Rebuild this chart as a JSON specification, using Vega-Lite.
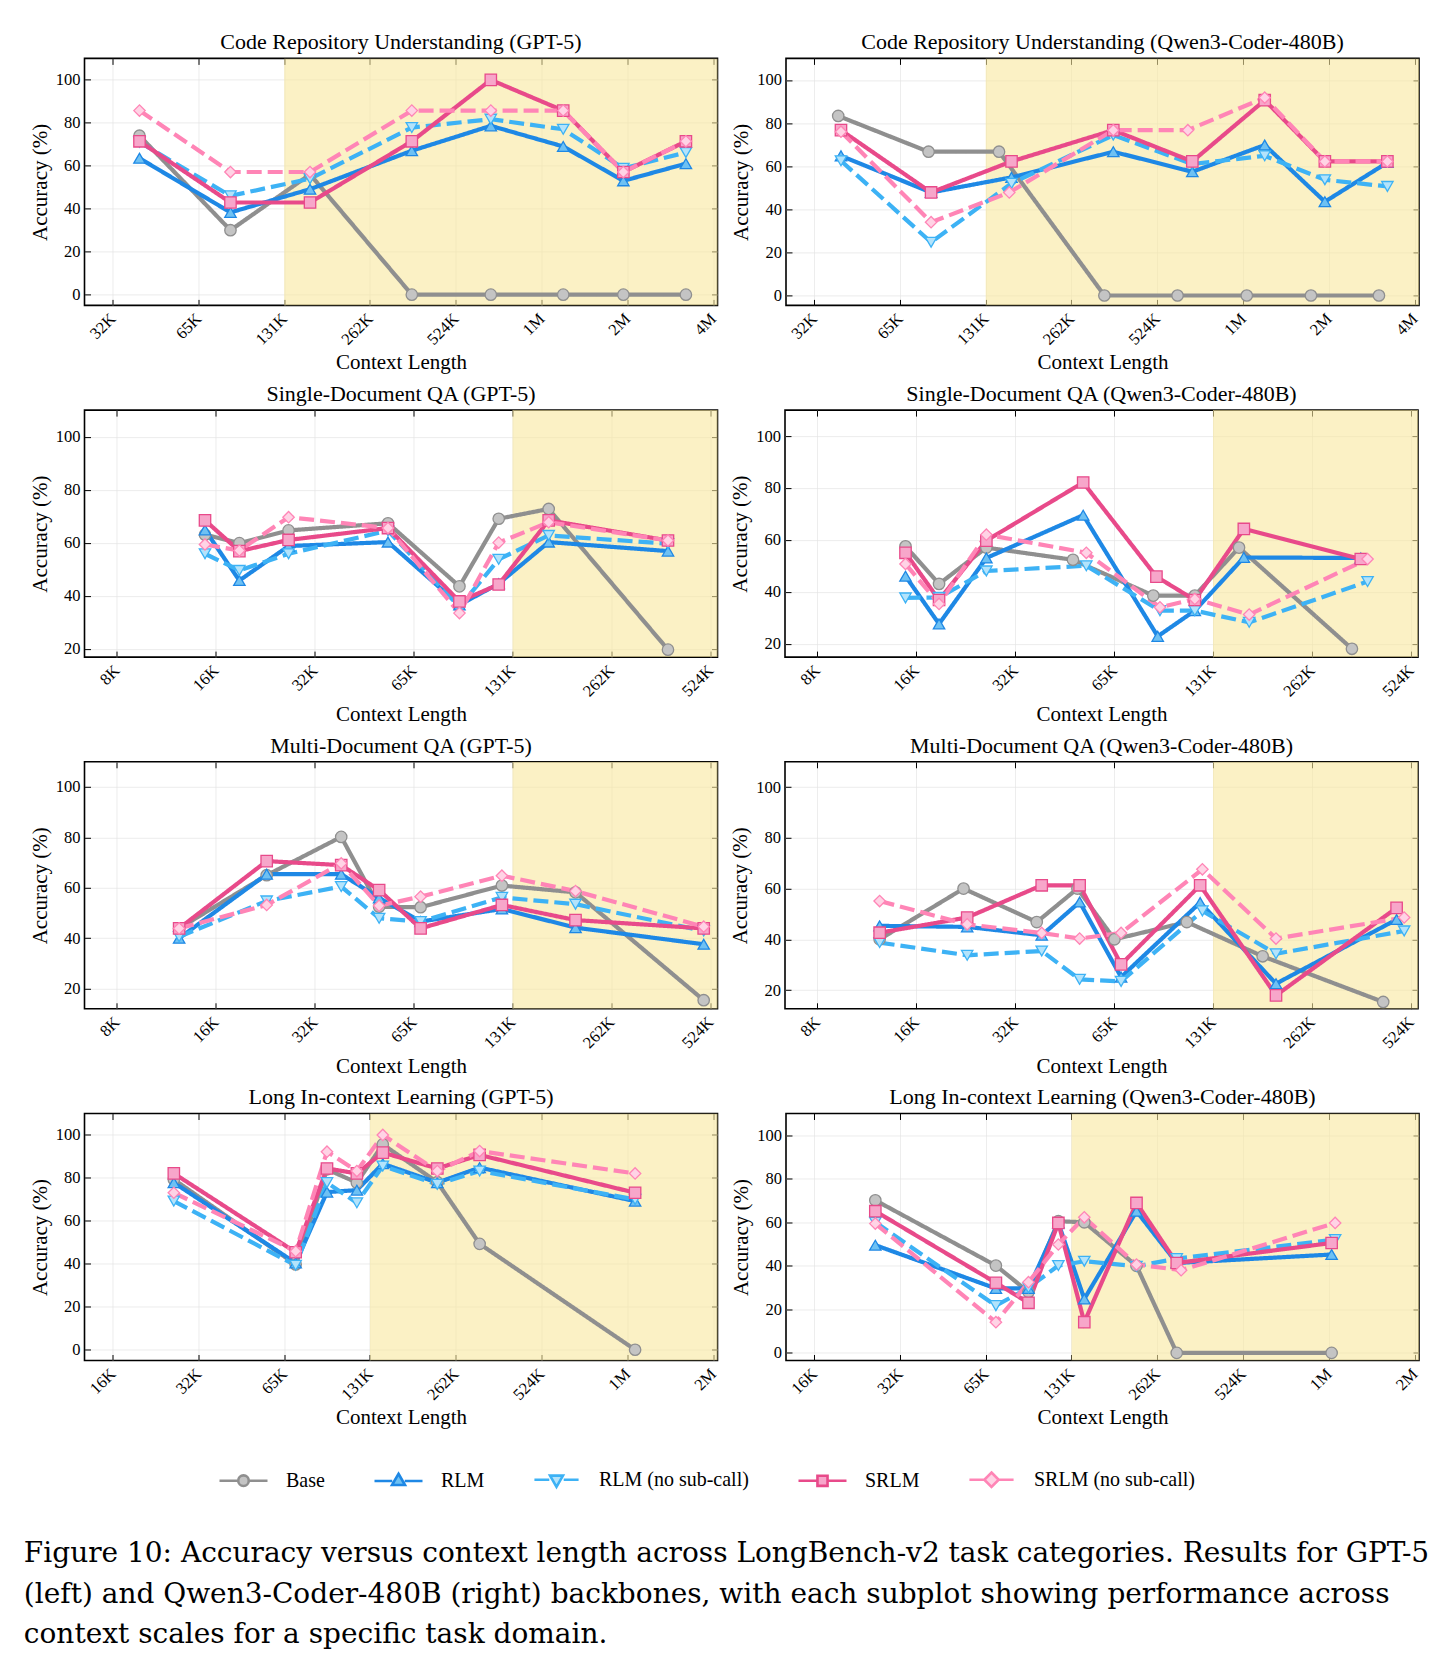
{
"$schema": "https://vega.github.io/schema/vega-lite/v6.json",
"padding": {"left": 23.5, "top": 30.4, "right": 5, "bottom": 10},
"background": "white",
"config": {
  "font": "Liberation Serif",
  "view": {"stroke": "#000", "strokeWidth": 1.6},
  "axis": {"labelFont": "Liberation Serif", "labelFontSize": 16.5, "labelColor": "#000", "titleFont": "Liberation Serif", "titleFontSize": 21, "titleFontWeight": "normal", "titleColor": "#000", "domain": false, "tickColor": "#000", "tickSize": -6, "tickWidth": 1, "labelPadding": 10.5, "gridColor": "#e4e4e4", "gridWidth": 0.7},
  "axisY": {"titlePadding": 5},
  "axisX": {"labelAlign": "right", "labelBaseline": "middle", "labelAngle": -45, "labelPadding": 16.5},
  "title": {"font": "Liberation Serif", "fontSize": 22, "fontWeight": "normal", "offset": 3.5, "color": "#000"}
},
"resolve": {"scale": {"color": "independent", "fill": "independent", "stroke": "independent", "shape": "independent", "strokeDash": "independent"}},
"spacing": 7.7,
"title": {"text": ["Figure 10: Accuracy versus context length across LongBench-v2 task categories. Results for GPT-5", "(left) and Qwen3-Coder-480B (right) backbones, with each subplot showing performance across", "context scales for a specific task domain."], "orient": "bottom", "anchor": "start", "frame": "bounds", "font": "DejaVu Serif", "fontSize": 28, "fontWeight": "normal", "lineHeight": 40.5, "offset": 48, "baseline": "top", "dx": -4.6, "color": "#000"},
"data": {"values": [
{"p":1,"s":"B","len":40700,"acc":74},{"p":1,"s":"B","len":84900,"acc":30},{"p":1,"s":"B","len":161500,"acc":56},{"p":1,"s":"B","len":367600,"acc":0},{"p":1,"s":"B","len":696100,"acc":0},{"p":1,"s":"B","len":1249600,"acc":0},{"p":1,"s":"B","len":2032000,"acc":0},{"p":1,"s":"B","len":3368000,"acc":0},
{"p":1,"s":"R","len":40700,"acc":63.5},{"p":1,"s":"R","len":84900,"acc":38.3},{"p":1,"s":"R","len":161500,"acc":49.1},{"p":1,"s":"R","len":367600,"acc":67},{"p":1,"s":"R","len":696100,"acc":78.6},{"p":1,"s":"R","len":1249600,"acc":69},{"p":1,"s":"R","len":2032000,"acc":53},{"p":1,"s":"R","len":3368000,"acc":61},
{"p":1,"s":"RN","len":40700,"acc":71},{"p":1,"s":"RN","len":84900,"acc":46},{"p":1,"s":"RN","len":161500,"acc":54},{"p":1,"s":"RN","len":367600,"acc":77.8},{"p":1,"s":"RN","len":696100,"acc":81.7},{"p":1,"s":"RN","len":1249600,"acc":77},{"p":1,"s":"RN","len":2032000,"acc":58.8},{"p":1,"s":"RN","len":3368000,"acc":66.2},
{"p":1,"s":"S","len":40700,"acc":71.4},{"p":1,"s":"S","len":84900,"acc":42.9},{"p":1,"s":"S","len":161500,"acc":42.9},{"p":1,"s":"S","len":367600,"acc":71.4},{"p":1,"s":"S","len":696100,"acc":100},{"p":1,"s":"S","len":1249600,"acc":85.7},{"p":1,"s":"S","len":2032000,"acc":57.1},{"p":1,"s":"S","len":3368000,"acc":71.4},
{"p":1,"s":"SN","len":40700,"acc":85.7},{"p":1,"s":"SN","len":84900,"acc":57.1},{"p":1,"s":"SN","len":161500,"acc":57.1},{"p":1,"s":"SN","len":367600,"acc":85.7},{"p":1,"s":"SN","len":696100,"acc":85.7},{"p":1,"s":"SN","len":1249600,"acc":85.7},{"p":1,"s":"SN","len":2032000,"acc":57.1},{"p":1,"s":"SN","len":3368000,"acc":71.4},
{"p":2,"s":"B","len":39800,"acc":83.3},{"p":2,"s":"B","len":82600,"acc":66.7},{"p":2,"s":"B","len":146000,"acc":66.7},{"p":2,"s":"B","len":342000,"acc":0},{"p":2,"s":"B","len":617800,"acc":0},{"p":2,"s":"B","len":1081000,"acc":0},{"p":2,"s":"B","len":1816000,"acc":0},{"p":2,"s":"B","len":3146000,"acc":0},
{"p":2,"s":"R","len":40700,"acc":64.8},{"p":2,"s":"R","len":84300,"acc":47.8},{"p":2,"s":"R","len":161500,"acc":54.8},{"p":2,"s":"R","len":367600,"acc":66.7},{"p":2,"s":"R","len":696100,"acc":57.4},{"p":2,"s":"R","len":1249600,"acc":69.8},{"p":2,"s":"R","len":2032000,"acc":43.5},{"p":2,"s":"R","len":3368000,"acc":61.7},
{"p":2,"s":"RN","len":40700,"acc":62.5},{"p":2,"s":"RN","len":84300,"acc":24.7},{"p":2,"s":"RN","len":161500,"acc":52},{"p":2,"s":"RN","len":367600,"acc":74.4},{"p":2,"s":"RN","len":696100,"acc":61},{"p":2,"s":"RN","len":1249600,"acc":64.8},{"p":2,"s":"RN","len":2032000,"acc":53.7},{"p":2,"s":"RN","len":3368000,"acc":50.6},
{"p":2,"s":"S","len":40700,"acc":76.7},{"p":2,"s":"S","len":84300,"acc":47.8},{"p":2,"s":"S","len":161500,"acc":62.2},{"p":2,"s":"S","len":367600,"acc":76.7},{"p":2,"s":"S","len":696100,"acc":62.2},{"p":2,"s":"S","len":1249600,"acc":90.6},{"p":2,"s":"S","len":2032000,"acc":62.2},{"p":2,"s":"S","len":3368000,"acc":62.2},
{"p":2,"s":"SN","len":40700,"acc":76},{"p":2,"s":"SN","len":84300,"acc":34},{"p":2,"s":"SN","len":158600,"acc":47.8},{"p":2,"s":"SN","len":367600,"acc":76.7},{"p":2,"s":"SN","len":671400,"acc":76.7},{"p":2,"s":"SN","len":1249600,"acc":91.8},{"p":2,"s":"SN","len":2032000,"acc":62.2},{"p":2,"s":"SN","len":3368000,"acc":62.2},
{"p":3,"s":"B","len":15210,"acc":63},{"p":3,"s":"B","len":19350,"acc":59.8},{"p":3,"s":"B","len":27310,"acc":64.6},{"p":3,"s":"B","len":54800,"acc":67.3},{"p":3,"s":"B","len":90400,"acc":43.5},{"p":3,"s":"B","len":119000,"acc":69},{"p":3,"s":"B","len":168900,"acc":72.7},{"p":3,"s":"B","len":389500,"acc":19.6},
{"p":3,"s":"R","len":15210,"acc":64.8},{"p":3,"s":"R","len":19350,"acc":45.7},{"p":3,"s":"R","len":27310,"acc":58.7},{"p":3,"s":"R","len":54800,"acc":60.2},{"p":3,"s":"R","len":90400,"acc":36.5},{"p":3,"s":"R","len":119000,"acc":44.5},{"p":3,"s":"R","len":168900,"acc":60.2},{"p":3,"s":"R","len":389500,"acc":56.8},
{"p":3,"s":"RN","len":15210,"acc":55.8},{"p":3,"s":"RN","len":19350,"acc":49.5},{"p":3,"s":"RN","len":27310,"acc":55.8},{"p":3,"s":"RN","len":54800,"acc":64.5},{"p":3,"s":"RN","len":90400,"acc":35.7},{"p":3,"s":"RN","len":119000,"acc":53.7},{"p":3,"s":"RN","len":168900,"acc":62.7},{"p":3,"s":"RN","len":389500,"acc":59.6},
{"p":3,"s":"S","len":15210,"acc":68.4},{"p":3,"s":"S","len":19350,"acc":56.8},{"p":3,"s":"S","len":27310,"acc":61},{"p":3,"s":"S","len":54800,"acc":65.5},{"p":3,"s":"S","len":90400,"acc":37.8},{"p":3,"s":"S","len":119000,"acc":44.2},{"p":3,"s":"S","len":168900,"acc":68.4},{"p":3,"s":"S","len":389500,"acc":60.8},
{"p":3,"s":"SN","len":15210,"acc":59.3},{"p":3,"s":"SN","len":19350,"acc":57},{"p":3,"s":"SN","len":27310,"acc":69.6},{"p":3,"s":"SN","len":54800,"acc":65.5},{"p":3,"s":"SN","len":90400,"acc":33.4},{"p":3,"s":"SN","len":119000,"acc":60},{"p":3,"s":"SN","len":168900,"acc":67.7},{"p":3,"s":"SN","len":389500,"acc":60.8},
{"p":4,"s":"B","len":15210,"acc":57.5},{"p":4,"s":"B","len":19240,"acc":43},{"p":4,"s":"B","len":26800,"acc":57},{"p":4,"s":"B","len":49150,"acc":52.3},{"p":4,"s":"B","len":86270,"acc":38.5},{"p":4,"s":"B","len":115400,"acc":38.5},{"p":4,"s":"B","len":157300,"acc":57},{"p":4,"s":"B","len":346900,"acc":18},
{"p":4,"s":"R","len":15210,"acc":46},{"p":4,"s":"R","len":19240,"acc":27.6},{"p":4,"s":"R","len":26800,"acc":53},{"p":4,"s":"R","len":52800,"acc":69.5},{"p":4,"s":"R","len":89000,"acc":22.8},{"p":4,"s":"R","len":115400,"acc":32.7},{"p":4,"s":"R","len":162700,"acc":53.2},{"p":4,"s":"R","len":369100,"acc":53},
{"p":4,"s":"RN","len":15210,"acc":37.6},{"p":4,"s":"RN","len":19240,"acc":37.8},{"p":4,"s":"RN","len":26800,"acc":48},{"p":4,"s":"RN","len":53970,"acc":50},{"p":4,"s":"RN","len":90400,"acc":32.7},{"p":4,"s":"RN","len":115400,"acc":32.7},{"p":4,"s":"RN","len":168900,"acc":28.2},{"p":4,"s":"RN","len":387000,"acc":43.9},
{"p":4,"s":"S","len":15210,"acc":55},{"p":4,"s":"S","len":19240,"acc":36.8},{"p":4,"s":"S","len":26800,"acc":59.7},{"p":4,"s":"S","len":52800,"acc":82.1},{"p":4,"s":"S","len":88200,"acc":45.8},{"p":4,"s":"S","len":115400,"acc":36.8},{"p":4,"s":"S","len":162700,"acc":64.2},{"p":4,"s":"S","len":369100,"acc":52.6},
{"p":4,"s":"SN","len":15210,"acc":50.7},{"p":4,"s":"SN","len":19240,"acc":35.3},{"p":4,"s":"SN","len":26800,"acc":62},{"p":4,"s":"SN","len":53970,"acc":55},{"p":4,"s":"SN","len":90400,"acc":34},{"p":4,"s":"SN","len":115400,"acc":37.2},{"p":4,"s":"SN","len":168900,"acc":31.2},{"p":4,"s":"SN","len":387000,"acc":52.6},
{"p":5,"s":"B","len":12690,"acc":43.9},{"p":5,"s":"B","len":23430,"acc":65},{"p":5,"s":"B","len":39490,"acc":80.2},{"p":5,"s":"B","len":51500,"acc":52.5},{"p":5,"s":"B","len":68860,"acc":52.3},{"p":5,"s":"B","len":121700,"acc":60.9},{"p":5,"s":"B","len":203800,"acc":58.2},{"p":5,"s":"B","len":500200,"acc":15.4},
{"p":5,"s":"R","len":12690,"acc":40},{"p":5,"s":"R","len":23430,"acc":65.4},{"p":5,"s":"R","len":39490,"acc":65.4},{"p":5,"s":"R","len":51500,"acc":56},{"p":5,"s":"R","len":68860,"acc":46.6},{"p":5,"s":"R","len":121700,"acc":51.6},{"p":5,"s":"R","len":203800,"acc":44.2},{"p":5,"s":"R","len":500200,"acc":37.6},
{"p":5,"s":"RN","len":12690,"acc":40.6},{"p":5,"s":"RN","len":23430,"acc":54.8},{"p":5,"s":"RN","len":39490,"acc":60.5},{"p":5,"s":"RN","len":51500,"acc":47.9},{"p":5,"s":"RN","len":68860,"acc":46.6},{"p":5,"s":"RN","len":121700,"acc":56.2},{"p":5,"s":"RN","len":203800,"acc":53.5},{"p":5,"s":"RN","len":500200,"acc":42.9},
{"p":5,"s":"S","len":12690,"acc":43.9},{"p":5,"s":"S","len":23430,"acc":70.6},{"p":5,"s":"S","len":39490,"acc":69},{"p":5,"s":"S","len":51500,"acc":59.1},{"p":5,"s":"S","len":68860,"acc":43.9},{"p":5,"s":"S","len":121700,"acc":53.2},{"p":5,"s":"S","len":203800,"acc":47.2},{"p":5,"s":"S","len":500200,"acc":43.9},
{"p":5,"s":"SN","len":12690,"acc":43.9},{"p":5,"s":"SN","len":23430,"acc":53.2},{"p":5,"s":"SN","len":39490,"acc":69.7},{"p":5,"s":"SN","len":51500,"acc":52.9},{"p":5,"s":"SN","len":68860,"acc":56.5},{"p":5,"s":"SN","len":121700,"acc":64.8},{"p":5,"s":"SN","len":203800,"acc":58.7},{"p":5,"s":"SN","len":500200,"acc":44.6},
{"p":6,"s":"B","len":12690,"acc":40},{"p":6,"s":"B","len":22840,"acc":60},{"p":6,"s":"B","len":38140,"acc":46.8},{"p":6,"s":"B","len":50720,"acc":60},{"p":6,"s":"B","len":65720,"acc":40},{"p":6,"s":"B","len":109100,"acc":46.8},{"p":6,"s":"B","len":185600,"acc":33.3},{"p":6,"s":"B","len":431800,"acc":15.3},
{"p":6,"s":"R","len":12690,"acc":45.3},{"p":6,"s":"R","len":23430,"acc":44.9},{"p":6,"s":"R","len":39490,"acc":41.6},{"p":6,"s":"R","len":51500,"acc":54.7},{"p":6,"s":"R","len":68860,"acc":25.1},{"p":6,"s":"R","len":119800,"acc":54.5},{"p":6,"s":"R","len":203800,"acc":22.5},{"p":6,"s":"R","len":474300,"acc":47.8},
{"p":6,"s":"RN","len":12690,"acc":38.7},{"p":6,"s":"RN","len":23430,"acc":33.7},{"p":6,"s":"RN","len":39490,"acc":35.4},{"p":6,"s":"RN","len":51500,"acc":24.2},{"p":6,"s":"RN","len":68860,"acc":23.4},{"p":6,"s":"RN","len":121700,"acc":51.2},{"p":6,"s":"RN","len":203800,"acc":34.3},{"p":6,"s":"RN","len":500200,"acc":43.3},
{"p":6,"s":"S","len":12690,"acc":42.6},{"p":6,"s":"S","len":23430,"acc":48.6},{"p":6,"s":"S","len":39490,"acc":61.3},{"p":6,"s":"S","len":51500,"acc":61.3},{"p":6,"s":"S","len":68860,"acc":30.1},{"p":6,"s":"S","len":119800,"acc":61.3},{"p":6,"s":"S","len":203800,"acc":17.9},{"p":6,"s":"S","len":474300,"acc":52.4},
{"p":6,"s":"SN","len":12690,"acc":55.1},{"p":6,"s":"SN","len":23430,"acc":45.9},{"p":6,"s":"SN","len":39490,"acc":42.5},{"p":6,"s":"SN","len":51500,"acc":40.3},{"p":6,"s":"SN","len":68860,"acc":42.5},{"p":6,"s":"SN","len":121700,"acc":67.6},{"p":6,"s":"SN","len":203800,"acc":40.3},{"p":6,"s":"SN","len":500200,"acc":48.6},
{"p":7,"s":"B","len":26860,"acc":79.3},{"p":7,"s":"B","len":71900,"acc":39.7},{"p":7,"s":"B","len":92610,"acc":84},{"p":7,"s":"B","len":117900,"acc":77.8},{"p":7,"s":"B","len":145400,"acc":95.6},{"p":7,"s":"B","len":225900,"acc":78},{"p":7,"s":"B","len":318000,"acc":49.3},{"p":7,"s":"B","len":1117000,"acc":0},
{"p":7,"s":"R","len":26860,"acc":77.8},{"p":7,"s":"R","len":71900,"acc":40.4},{"p":7,"s":"R","len":92610,"acc":73.4},{"p":7,"s":"R","len":117900,"acc":74.3},{"p":7,"s":"R","len":145400,"acc":86.6},{"p":7,"s":"R","len":225900,"acc":77.8},{"p":7,"s":"R","len":318000,"acc":84.8},{"p":7,"s":"R","len":1117000,"acc":69.2},
{"p":7,"s":"RN","len":26860,"acc":69.2},{"p":7,"s":"RN","len":71900,"acc":39.3},{"p":7,"s":"RN","len":92610,"acc":77.8},{"p":7,"s":"RN","len":117900,"acc":68.4},{"p":7,"s":"RN","len":145400,"acc":85.5},{"p":7,"s":"RN","len":225900,"acc":77},{"p":7,"s":"RN","len":318000,"acc":83.2},{"p":7,"s":"RN","len":1117000,"acc":70},
{"p":7,"s":"S","len":26860,"acc":82.1},{"p":7,"s":"S","len":71900,"acc":45.4},{"p":7,"s":"S","len":92610,"acc":84.4},{"p":7,"s":"S","len":117900,"acc":82.1},{"p":7,"s":"S","len":145400,"acc":91.8},{"p":7,"s":"S","len":225900,"acc":84.4},{"p":7,"s":"S","len":318000,"acc":90.7},{"p":7,"s":"S","len":1117000,"acc":73.1},
{"p":7,"s":"SN","len":26860,"acc":73.1},{"p":7,"s":"SN","len":71900,"acc":45.9},{"p":7,"s":"SN","len":92610,"acc":92.2},{"p":7,"s":"SN","len":117900,"acc":83.2},{"p":7,"s":"SN","len":145400,"acc":100},{"p":7,"s":"SN","len":225900,"acc":83.2},{"p":7,"s":"SN","len":318000,"acc":92.5},{"p":7,"s":"SN","len":1117000,"acc":82.1},
{"p":8,"s":"B","len":26860,"acc":70.1},{"p":8,"s":"B","len":71170,"acc":40.1},{"p":8,"s":"B","len":92610,"acc":28},{"p":8,"s":"B","len":117900,"acc":60.5},{"p":8,"s":"B","len":145400,"acc":60},{"p":8,"s":"B","len":221700,"acc":40},{"p":8,"s":"B","len":306900,"acc":0},{"p":8,"s":"B","len":1073000,"acc":0},
{"p":8,"s":"R","len":26860,"acc":49.5},{"p":8,"s":"R","len":71170,"acc":29.6},{"p":8,"s":"R","len":92610,"acc":29.6},{"p":8,"s":"R","len":117900,"acc":59.7},{"p":8,"s":"R","len":145400,"acc":24.8},{"p":8,"s":"R","len":221700,"acc":65.1},{"p":8,"s":"R","len":306900,"acc":41.3},{"p":8,"s":"R","len":1073000,"acc":45.2},
{"p":8,"s":"RN","len":26860,"acc":60},{"p":8,"s":"RN","len":71170,"acc":21.7},{"p":8,"s":"RN","len":92610,"acc":29.9},{"p":8,"s":"RN","len":117900,"acc":40.1},{"p":8,"s":"RN","len":145400,"acc":42.1},{"p":8,"s":"RN","len":221700,"acc":39.8},{"p":8,"s":"RN","len":306900,"acc":43.3},{"p":8,"s":"RN","len":1104000,"acc":52.1},
{"p":8,"s":"S","len":26860,"acc":65.1},{"p":8,"s":"S","len":71170,"acc":32.2},{"p":8,"s":"S","len":92610,"acc":23},{"p":8,"s":"S","len":117900,"acc":59.7},{"p":8,"s":"S","len":145400,"acc":14.1},{"p":8,"s":"S","len":221700,"acc":68.9},{"p":8,"s":"S","len":306900,"acc":41.3},{"p":8,"s":"S","len":1073000,"acc":50.5},
{"p":8,"s":"SN","len":26860,"acc":59.4},{"p":8,"s":"SN","len":71170,"acc":14.1},{"p":8,"s":"SN","len":92610,"acc":32.5},{"p":8,"s":"SN","len":117900,"acc":49.8},{"p":8,"s":"SN","len":145400,"acc":62.3},{"p":8,"s":"SN","len":221700,"acc":40.6},{"p":8,"s":"SN","len":318000,"acc":38},{"p":8,"s":"SN","len":1104000,"acc":59.7}
]},
"vconcat": [
 {"hconcat": [
  {"title": "Code Repository Understanding (GPT-5)", "width": 633, "height": 247, "resolve": {"axis": {"x": "independent", "y": "independent"}},
   "layer": [
    {"data": {"values": [{}]}, "mark": {"type": "rect", "color": "#F9E79F", "opacity": 0.6, "clip": true},
     "encoding": {"x": {"datum": 131072, "type": "quantitative", "scale": {"type": "log", "base": 2, "domain": [26100, 4348000], "nice": false},
       "axis": {"title": "Context Length", "values": [32768, 65536, 131072, 262144, 524288, 1048576, 2097152, 4194304], "labelExpr": "datum.value >= 1000000 ? format(datum.value / 1048576, 'd') + 'M' : format(floor(datum.value / 1000), 'd') + 'K'", "grid": true}},
      "x2": {"datum": 8388608}}},
    {"transform": [{"filter": "datum.p == 1"}], "mark": {"type": "line", "strokeWidth": 4.2, "clip": true},
     "encoding": {"x": {"field": "len", "type": "quantitative", "axis": null},
      "y": {"field": "acc", "type": "quantitative", "scale": {"domain": [-5, 110], "nice": false, "zero": false}, "axis": {"title": "Accuracy (%)", "values": [0, 20, 40, 60, 80, 100], "grid": true}},
      "stroke": {"field": "s", "type": "nominal", "scale": {"domain": ["B", "R", "RN", "S", "SN"], "range": ["#8f8f8f", "#1E88E5", "#3DB2F5", "#E84A8A", "#FF85B6"]}, "legend": null},
      "strokeDash": {"field": "s", "type": "nominal", "scale": {"domain": ["B", "R", "RN", "S", "SN"], "range": [[1, 0], [1, 0], [15, 6], [1, 0], [15, 6]]}, "legend": null}}},
    {"transform": [{"filter": "datum.p == 1"}], "mark": {"type": "point", "filled": true, "size": 130, "strokeWidth": 1.3, "opacity": 1},
     "encoding": {"x": {"field": "len", "type": "quantitative", "axis": null}, "y": {"field": "acc", "type": "quantitative", "axis": null},
      "stroke": {"field": "s", "type": "nominal", "legend": null},
      "fill": {"field": "s", "type": "nominal", "scale": {"domain": ["B", "R", "RN", "S", "SN"], "range": ["#c4c4c4", "#6EC1F3", "#B3E3FB", "#F7A6CA", "#FFD3E5"]}, "legend": null},
      "shape": {"field": "s", "type": "nominal", "scale": {"domain": ["B", "R", "RN", "S", "SN"], "range": ["circle", "triangle-up", "triangle-down", "square", "diamond"]}, "legend": null}}},
    {"data": {"values": [{}]}, "mark": {"type": "point", "opacity": 0},
     "encoding": {"x": {"datum": 131072, "type": "quantitative", "axis": {"orient": "top", "labels": false, "title": null, "grid": false, "values": [32768, 65536, 131072, 262144, 524288, 1048576, 2097152, 4194304]}},
      "y": {"datum": 50, "type": "quantitative", "axis": {"orient": "right", "labels": false, "title": null, "grid": false, "values": [0, 20, 40, 60, 80, 100]}}}}
   ]},
  {"title": "Code Repository Understanding (Qwen3-Coder-480B)", "width": 633, "height": 247, "resolve": {"axis": {"x": "independent", "y": "independent"}},
   "layer": [
    {"data": {"values": [{}]}, "mark": {"type": "rect", "color": "#F9E79F", "opacity": 0.6, "clip": true},
     "encoding": {"x": {"datum": 131072, "type": "quantitative", "scale": {"type": "log", "base": 2, "domain": [26100, 4348000], "nice": false},
       "axis": {"title": "Context Length", "values": [32768, 65536, 131072, 262144, 524288, 1048576, 2097152, 4194304], "labelExpr": "datum.value >= 1000000 ? format(datum.value / 1048576, 'd') + 'M' : format(floor(datum.value / 1000), 'd') + 'K'", "grid": true}},
      "x2": {"datum": 8388608}}},
    {"transform": [{"filter": "datum.p == 2"}], "mark": {"type": "line", "strokeWidth": 4.2, "clip": true},
     "encoding": {"x": {"field": "len", "type": "quantitative", "axis": null},
      "y": {"field": "acc", "type": "quantitative", "scale": {"domain": [-4.6, 110], "nice": false, "zero": false}, "axis": {"title": "Accuracy (%)", "values": [0, 20, 40, 60, 80, 100], "grid": true}},
      "stroke": {"field": "s", "type": "nominal", "scale": {"domain": ["B", "R", "RN", "S", "SN"], "range": ["#8f8f8f", "#1E88E5", "#3DB2F5", "#E84A8A", "#FF85B6"]}, "legend": null},
      "strokeDash": {"field": "s", "type": "nominal", "scale": {"domain": ["B", "R", "RN", "S", "SN"], "range": [[1, 0], [1, 0], [15, 6], [1, 0], [15, 6]]}, "legend": null}}},
    {"transform": [{"filter": "datum.p == 2"}], "mark": {"type": "point", "filled": true, "size": 130, "strokeWidth": 1.3, "opacity": 1},
     "encoding": {"x": {"field": "len", "type": "quantitative", "axis": null}, "y": {"field": "acc", "type": "quantitative", "axis": null},
      "stroke": {"field": "s", "type": "nominal", "legend": null},
      "fill": {"field": "s", "type": "nominal", "scale": {"domain": ["B", "R", "RN", "S", "SN"], "range": ["#c4c4c4", "#6EC1F3", "#B3E3FB", "#F7A6CA", "#FFD3E5"]}, "legend": null},
      "shape": {"field": "s", "type": "nominal", "scale": {"domain": ["B", "R", "RN", "S", "SN"], "range": ["circle", "triangle-up", "triangle-down", "square", "diamond"]}, "legend": null}}},
    {"data": {"values": [{}]}, "mark": {"type": "point", "opacity": 0},
     "encoding": {"x": {"datum": 131072, "type": "quantitative", "axis": {"orient": "top", "labels": false, "title": null, "grid": false, "values": [32768, 65536, 131072, 262144, 524288, 1048576, 2097152, 4194304]}},
      "y": {"datum": 50, "type": "quantitative", "axis": {"orient": "right", "labels": false, "title": null, "grid": false, "values": [0, 20, 40, 60, 80, 100]}}}}
   ]}
 ], "spacing": 8.5, "resolve": {"scale": {"fill": "independent", "stroke": "independent", "shape": "independent", "strokeDash": "independent"}}},
 {"hconcat": [
  {"title": "Single-Document QA (GPT-5)", "width": 633, "height": 247, "resolve": {"axis": {"x": "independent", "y": "independent"}},
   "layer": [
    {"data": {"values": [{}]}, "mark": {"type": "rect", "color": "#F9E79F", "opacity": 0.6, "clip": true},
     "encoding": {"x": {"datum": 131072, "type": "quantitative", "scale": {"type": "log", "base": 2, "domain": [6540, 551000], "nice": false},
       "axis": {"title": "Context Length", "values": [8192, 16384, 32768, 65536, 131072, 262144, 524288], "labelExpr": "datum.value >= 1000000 ? format(datum.value / 1048576, 'd') + 'M' : format(floor(datum.value / 1000), 'd') + 'K'", "grid": true}},
      "x2": {"datum": 8388608}}},
    {"transform": [{"filter": "datum.p == 3"}], "mark": {"type": "line", "strokeWidth": 4.2, "clip": true},
     "encoding": {"x": {"field": "len", "type": "quantitative", "axis": null},
      "y": {"field": "acc", "type": "quantitative", "scale": {"domain": [16.8, 110], "nice": false, "zero": false}, "axis": {"title": "Accuracy (%)", "values": [20, 40, 60, 80, 100], "grid": true}},
      "stroke": {"field": "s", "type": "nominal", "scale": {"domain": ["B", "R", "RN", "S", "SN"], "range": ["#8f8f8f", "#1E88E5", "#3DB2F5", "#E84A8A", "#FF85B6"]}, "legend": null},
      "strokeDash": {"field": "s", "type": "nominal", "scale": {"domain": ["B", "R", "RN", "S", "SN"], "range": [[1, 0], [1, 0], [15, 6], [1, 0], [15, 6]]}, "legend": null}}},
    {"transform": [{"filter": "datum.p == 3"}], "mark": {"type": "point", "filled": true, "size": 130, "strokeWidth": 1.3, "opacity": 1},
     "encoding": {"x": {"field": "len", "type": "quantitative", "axis": null}, "y": {"field": "acc", "type": "quantitative", "axis": null},
      "stroke": {"field": "s", "type": "nominal", "legend": null},
      "fill": {"field": "s", "type": "nominal", "scale": {"domain": ["B", "R", "RN", "S", "SN"], "range": ["#c4c4c4", "#6EC1F3", "#B3E3FB", "#F7A6CA", "#FFD3E5"]}, "legend": null},
      "shape": {"field": "s", "type": "nominal", "scale": {"domain": ["B", "R", "RN", "S", "SN"], "range": ["circle", "triangle-up", "triangle-down", "square", "diamond"]}, "legend": null}}},
    {"data": {"values": [{}]}, "mark": {"type": "point", "opacity": 0},
     "encoding": {"x": {"datum": 131072, "type": "quantitative", "axis": {"orient": "top", "labels": false, "title": null, "grid": false, "values": [8192, 16384, 32768, 65536, 131072, 262144, 524288]}},
      "y": {"datum": 50, "type": "quantitative", "axis": {"orient": "right", "labels": false, "title": null, "grid": false, "values": [20, 40, 60, 80, 100]}}}}
   ]},
  {"title": "Single-Document QA (Qwen3-Coder-480B)", "width": 633, "height": 247, "resolve": {"axis": {"x": "independent", "y": "independent"}},
   "layer": [
    {"data": {"values": [{}]}, "mark": {"type": "rect", "color": "#F9E79F", "opacity": 0.6, "clip": true},
     "encoding": {"x": {"datum": 131072, "type": "quantitative", "scale": {"type": "log", "base": 2, "domain": [6540, 551000], "nice": false},
       "axis": {"title": "Context Length", "values": [8192, 16384, 32768, 65536, 131072, 262144, 524288], "labelExpr": "datum.value >= 1000000 ? format(datum.value / 1048576, 'd') + 'M' : format(floor(datum.value / 1000), 'd') + 'K'", "grid": true}},
      "x2": {"datum": 8388608}}},
    {"transform": [{"filter": "datum.p == 4"}], "mark": {"type": "line", "strokeWidth": 4.2, "clip": true},
     "encoding": {"x": {"field": "len", "type": "quantitative", "axis": null},
      "y": {"field": "acc", "type": "quantitative", "scale": {"domain": [14.8, 110], "nice": false, "zero": false}, "axis": {"title": "Accuracy (%)", "values": [20, 40, 60, 80, 100], "grid": true}},
      "stroke": {"field": "s", "type": "nominal", "scale": {"domain": ["B", "R", "RN", "S", "SN"], "range": ["#8f8f8f", "#1E88E5", "#3DB2F5", "#E84A8A", "#FF85B6"]}, "legend": null},
      "strokeDash": {"field": "s", "type": "nominal", "scale": {"domain": ["B", "R", "RN", "S", "SN"], "range": [[1, 0], [1, 0], [15, 6], [1, 0], [15, 6]]}, "legend": null}}},
    {"transform": [{"filter": "datum.p == 4"}], "mark": {"type": "point", "filled": true, "size": 130, "strokeWidth": 1.3, "opacity": 1},
     "encoding": {"x": {"field": "len", "type": "quantitative", "axis": null}, "y": {"field": "acc", "type": "quantitative", "axis": null},
      "stroke": {"field": "s", "type": "nominal", "legend": null},
      "fill": {"field": "s", "type": "nominal", "scale": {"domain": ["B", "R", "RN", "S", "SN"], "range": ["#c4c4c4", "#6EC1F3", "#B3E3FB", "#F7A6CA", "#FFD3E5"]}, "legend": null},
      "shape": {"field": "s", "type": "nominal", "scale": {"domain": ["B", "R", "RN", "S", "SN"], "range": ["circle", "triangle-up", "triangle-down", "square", "diamond"]}, "legend": null}}},
    {"data": {"values": [{}]}, "mark": {"type": "point", "opacity": 0},
     "encoding": {"x": {"datum": 131072, "type": "quantitative", "axis": {"orient": "top", "labels": false, "title": null, "grid": false, "values": [8192, 16384, 32768, 65536, 131072, 262144, 524288]}},
      "y": {"datum": 50, "type": "quantitative", "axis": {"orient": "right", "labels": false, "title": null, "grid": false, "values": [20, 40, 60, 80, 100]}}}}
   ]}
 ], "spacing": 8.5, "resolve": {"scale": {"fill": "independent", "stroke": "independent", "shape": "independent", "strokeDash": "independent"}}},
 {"hconcat": [
  {"title": "Multi-Document QA (GPT-5)", "width": 633, "height": 247, "resolve": {"axis": {"x": "independent", "y": "independent"}},
   "layer": [
    {"data": {"values": [{}]}, "mark": {"type": "rect", "color": "#F9E79F", "opacity": 0.6, "clip": true},
     "encoding": {"x": {"datum": 131072, "type": "quantitative", "scale": {"type": "log", "base": 2, "domain": [6540, 551000], "nice": false},
       "axis": {"title": "Context Length", "values": [8192, 16384, 32768, 65536, 131072, 262144, 524288], "labelExpr": "datum.value >= 1000000 ? format(datum.value / 1048576, 'd') + 'M' : format(floor(datum.value / 1000), 'd') + 'K'", "grid": true}},
      "x2": {"datum": 8388608}}},
    {"transform": [{"filter": "datum.p == 5"}], "mark": {"type": "line", "strokeWidth": 4.2, "clip": true},
     "encoding": {"x": {"field": "len", "type": "quantitative", "axis": null},
      "y": {"field": "acc", "type": "quantitative", "scale": {"domain": [12, 110], "nice": false, "zero": false}, "axis": {"title": "Accuracy (%)", "values": [20, 40, 60, 80, 100], "grid": true}},
      "stroke": {"field": "s", "type": "nominal", "scale": {"domain": ["B", "R", "RN", "S", "SN"], "range": ["#8f8f8f", "#1E88E5", "#3DB2F5", "#E84A8A", "#FF85B6"]}, "legend": null},
      "strokeDash": {"field": "s", "type": "nominal", "scale": {"domain": ["B", "R", "RN", "S", "SN"], "range": [[1, 0], [1, 0], [15, 6], [1, 0], [15, 6]]}, "legend": null}}},
    {"transform": [{"filter": "datum.p == 5"}], "mark": {"type": "point", "filled": true, "size": 130, "strokeWidth": 1.3, "opacity": 1},
     "encoding": {"x": {"field": "len", "type": "quantitative", "axis": null}, "y": {"field": "acc", "type": "quantitative", "axis": null},
      "stroke": {"field": "s", "type": "nominal", "legend": null},
      "fill": {"field": "s", "type": "nominal", "scale": {"domain": ["B", "R", "RN", "S", "SN"], "range": ["#c4c4c4", "#6EC1F3", "#B3E3FB", "#F7A6CA", "#FFD3E5"]}, "legend": null},
      "shape": {"field": "s", "type": "nominal", "scale": {"domain": ["B", "R", "RN", "S", "SN"], "range": ["circle", "triangle-up", "triangle-down", "square", "diamond"]}, "legend": null}}},
    {"data": {"values": [{}]}, "mark": {"type": "point", "opacity": 0},
     "encoding": {"x": {"datum": 131072, "type": "quantitative", "axis": {"orient": "top", "labels": false, "title": null, "grid": false, "values": [8192, 16384, 32768, 65536, 131072, 262144, 524288]}},
      "y": {"datum": 50, "type": "quantitative", "axis": {"orient": "right", "labels": false, "title": null, "grid": false, "values": [20, 40, 60, 80, 100]}}}}
   ]},
  {"title": "Multi-Document QA (Qwen3-Coder-480B)", "width": 633, "height": 247, "resolve": {"axis": {"x": "independent", "y": "independent"}},
   "layer": [
    {"data": {"values": [{}]}, "mark": {"type": "rect", "color": "#F9E79F", "opacity": 0.6, "clip": true},
     "encoding": {"x": {"datum": 131072, "type": "quantitative", "scale": {"type": "log", "base": 2, "domain": [6540, 551000], "nice": false},
       "axis": {"title": "Context Length", "values": [8192, 16384, 32768, 65536, 131072, 262144, 524288], "labelExpr": "datum.value >= 1000000 ? format(datum.value / 1048576, 'd') + 'M' : format(floor(datum.value / 1000), 'd') + 'K'", "grid": true}},
      "x2": {"datum": 8388608}}},
    {"transform": [{"filter": "datum.p == 6"}], "mark": {"type": "line", "strokeWidth": 4.2, "clip": true},
     "encoding": {"x": {"field": "len", "type": "quantitative", "axis": null},
      "y": {"field": "acc", "type": "quantitative", "scale": {"domain": [12.6, 110], "nice": false, "zero": false}, "axis": {"title": "Accuracy (%)", "values": [20, 40, 60, 80, 100], "grid": true}},
      "stroke": {"field": "s", "type": "nominal", "scale": {"domain": ["B", "R", "RN", "S", "SN"], "range": ["#8f8f8f", "#1E88E5", "#3DB2F5", "#E84A8A", "#FF85B6"]}, "legend": null},
      "strokeDash": {"field": "s", "type": "nominal", "scale": {"domain": ["B", "R", "RN", "S", "SN"], "range": [[1, 0], [1, 0], [15, 6], [1, 0], [15, 6]]}, "legend": null}}},
    {"transform": [{"filter": "datum.p == 6"}], "mark": {"type": "point", "filled": true, "size": 130, "strokeWidth": 1.3, "opacity": 1},
     "encoding": {"x": {"field": "len", "type": "quantitative", "axis": null}, "y": {"field": "acc", "type": "quantitative", "axis": null},
      "stroke": {"field": "s", "type": "nominal", "legend": null},
      "fill": {"field": "s", "type": "nominal", "scale": {"domain": ["B", "R", "RN", "S", "SN"], "range": ["#c4c4c4", "#6EC1F3", "#B3E3FB", "#F7A6CA", "#FFD3E5"]}, "legend": null},
      "shape": {"field": "s", "type": "nominal", "scale": {"domain": ["B", "R", "RN", "S", "SN"], "range": ["circle", "triangle-up", "triangle-down", "square", "diamond"]}, "legend": null}}},
    {"data": {"values": [{}]}, "mark": {"type": "point", "opacity": 0},
     "encoding": {"x": {"datum": 131072, "type": "quantitative", "axis": {"orient": "top", "labels": false, "title": null, "grid": false, "values": [8192, 16384, 32768, 65536, 131072, 262144, 524288]}},
      "y": {"datum": 50, "type": "quantitative", "axis": {"orient": "right", "labels": false, "title": null, "grid": false, "values": [20, 40, 60, 80, 100]}}}}
   ]}
 ], "spacing": 8.5, "resolve": {"scale": {"fill": "independent", "stroke": "independent", "shape": "independent", "strokeDash": "independent"}}},
 {"hconcat": [
  {"title": "Long In-context Learning (GPT-5)", "width": 633, "height": 247, "resolve": {"axis": {"x": "independent", "y": "independent"}},
   "layer": [
    {"data": {"values": [{}]}, "mark": {"type": "rect", "color": "#F9E79F", "opacity": 0.6, "clip": true},
     "encoding": {"x": {"datum": 131072, "type": "quantitative", "scale": {"type": "log", "base": 2, "domain": [13050, 2174000], "nice": false},
       "axis": {"title": "Context Length", "values": [16384, 32768, 65536, 131072, 262144, 524288, 1048576, 2097152], "labelExpr": "datum.value >= 1000000 ? format(datum.value / 1048576, 'd') + 'M' : format(floor(datum.value / 1000), 'd') + 'K'", "grid": true}},
      "x2": {"datum": 8388608}}},
    {"transform": [{"filter": "datum.p == 7"}], "mark": {"type": "line", "strokeWidth": 4.2, "clip": true},
     "encoding": {"x": {"field": "len", "type": "quantitative", "axis": null},
      "y": {"field": "acc", "type": "quantitative", "scale": {"domain": [-5, 110], "nice": false, "zero": false}, "axis": {"title": "Accuracy (%)", "values": [0, 20, 40, 60, 80, 100], "grid": true}},
      "stroke": {"field": "s", "type": "nominal", "scale": {"domain": ["B", "R", "RN", "S", "SN"], "range": ["#8f8f8f", "#1E88E5", "#3DB2F5", "#E84A8A", "#FF85B6"]}, "legend": null},
      "strokeDash": {"field": "s", "type": "nominal", "scale": {"domain": ["B", "R", "RN", "S", "SN"], "range": [[1, 0], [1, 0], [15, 6], [1, 0], [15, 6]]}, "legend": null}}},
    {"transform": [{"filter": "datum.p == 7"}], "mark": {"type": "point", "filled": true, "size": 130, "strokeWidth": 1.3, "opacity": 1},
     "encoding": {"x": {"field": "len", "type": "quantitative", "axis": null}, "y": {"field": "acc", "type": "quantitative", "axis": null},
      "stroke": {"field": "s", "type": "nominal", "legend": null},
      "fill": {"field": "s", "type": "nominal", "scale": {"domain": ["B", "R", "RN", "S", "SN"], "range": ["#c4c4c4", "#6EC1F3", "#B3E3FB", "#F7A6CA", "#FFD3E5"]}, "legend": null},
      "shape": {"field": "s", "type": "nominal", "scale": {"domain": ["B", "R", "RN", "S", "SN"], "range": ["circle", "triangle-up", "triangle-down", "square", "diamond"]}, "legend": null}}},
    {"data": {"values": [{}]}, "mark": {"type": "point", "opacity": 0},
     "encoding": {"x": {"datum": 131072, "type": "quantitative", "axis": {"orient": "top", "labels": false, "title": null, "grid": false, "values": [16384, 32768, 65536, 131072, 262144, 524288, 1048576, 2097152]}},
      "y": {"datum": 50, "type": "quantitative", "axis": {"orient": "right", "labels": false, "title": null, "grid": false, "values": [0, 20, 40, 60, 80, 100]}}}}
   ]},
  {"title": "Long In-context Learning (Qwen3-Coder-480B)", "width": 633, "height": 247, "resolve": {"axis": {"x": "independent", "y": "independent"}},
   "layer": [
    {"data": {"values": [{}]}, "mark": {"type": "rect", "color": "#F9E79F", "opacity": 0.6, "clip": true},
     "encoding": {"x": {"datum": 131072, "type": "quantitative", "scale": {"type": "log", "base": 2, "domain": [13050, 2174000], "nice": false},
       "axis": {"title": "Context Length", "values": [16384, 32768, 65536, 131072, 262144, 524288, 1048576, 2097152], "labelExpr": "datum.value >= 1000000 ? format(datum.value / 1048576, 'd') + 'M' : format(floor(datum.value / 1000), 'd') + 'K'", "grid": true}},
      "x2": {"datum": 8388608}}},
    {"transform": [{"filter": "datum.p == 8"}], "mark": {"type": "line", "strokeWidth": 4.2, "clip": true},
     "encoding": {"x": {"field": "len", "type": "quantitative", "axis": null},
      "y": {"field": "acc", "type": "quantitative", "scale": {"domain": [-3.5, 110], "nice": false, "zero": false}, "axis": {"title": "Accuracy (%)", "values": [0, 20, 40, 60, 80, 100], "grid": true}},
      "stroke": {"field": "s", "type": "nominal", "scale": {"domain": ["B", "R", "RN", "S", "SN"], "range": ["#8f8f8f", "#1E88E5", "#3DB2F5", "#E84A8A", "#FF85B6"]}, "legend": null},
      "strokeDash": {"field": "s", "type": "nominal", "scale": {"domain": ["B", "R", "RN", "S", "SN"], "range": [[1, 0], [1, 0], [15, 6], [1, 0], [15, 6]]}, "legend": null}}},
    {"transform": [{"filter": "datum.p == 8"}], "mark": {"type": "point", "filled": true, "size": 130, "strokeWidth": 1.3, "opacity": 1},
     "encoding": {"x": {"field": "len", "type": "quantitative", "axis": null}, "y": {"field": "acc", "type": "quantitative", "axis": null},
      "stroke": {"field": "s", "type": "nominal", "legend": null},
      "fill": {"field": "s", "type": "nominal", "scale": {"domain": ["B", "R", "RN", "S", "SN"], "range": ["#c4c4c4", "#6EC1F3", "#B3E3FB", "#F7A6CA", "#FFD3E5"]}, "legend": null},
      "shape": {"field": "s", "type": "nominal", "scale": {"domain": ["B", "R", "RN", "S", "SN"], "range": ["circle", "triangle-up", "triangle-down", "square", "diamond"]}, "legend": null}}},
    {"data": {"values": [{}]}, "mark": {"type": "point", "opacity": 0},
     "encoding": {"x": {"datum": 131072, "type": "quantitative", "axis": {"orient": "top", "labels": false, "title": null, "grid": false, "values": [16384, 32768, 65536, 131072, 262144, 524288, 1048576, 2097152]}},
      "y": {"datum": 50, "type": "quantitative", "axis": {"orient": "right", "labels": false, "title": null, "grid": false, "values": [0, 20, 40, 60, 80, 100]}}}}
   ]}
 ], "spacing": 8.5, "resolve": {"scale": {"fill": "independent", "stroke": "independent", "shape": "independent", "strokeDash": "independent"}}},
 {"width": 1, "height": 1, "view": {"stroke": null},
  "data": {"values": [{"name": "Base"}, {"name": "RLM"}, {"name": "RLM (no sub-call)"}, {"name": "SRLM"}, {"name": "SRLM (no sub-call)"}]},
  "mark": {"type": "point", "filled": true, "opacity": 0},
  "encoding": {
   "stroke": {"field": "name", "type": "nominal", "scale": {"range": ["#8f8f8f", "#1E88E5", "#3DB2F5", "#E84A8A", "#FF85B6"]},
     "legend": {"title": null, "orient": "none", "legendX": 133.5, "legendY": 16, "direction": "horizontal", "symbolSize": 2304, "symbolStrokeWidth": 2.6, "symbolOpacity": 1, "labelFont": "Liberation Serif", "labelFontSize": 20, "labelColor": "#000", "labelOffset": 17, "labelLimit": 0, "columnPadding": 44, "padding": 0}},
   "fill": {"field": "name", "type": "nominal", "scale": {"range": ["#c4c4c4", "#6EC1F3", "#B3E3FB", "#F7A6CA", "#FFD3E5"]},
     "legend": {"title": null, "orient": "none", "legendX": 133.5, "legendY": 16, "direction": "horizontal", "symbolSize": 2304, "symbolStrokeWidth": 2.6, "symbolOpacity": 1, "labelFont": "Liberation Serif", "labelFontSize": 20, "labelColor": "#000", "labelOffset": 17, "labelLimit": 0, "columnPadding": 44, "padding": 0}},
   "shape": {"field": "name", "type": "nominal", "scale": {"range": ["M-1,0H-0.22M0.22,0H1M0.22,0A0.22,0.22,0,1,1,-0.22,0A0.22,0.22,0,1,1,0.22,0Z", "M-1,0H-0.26M0.26,0H1M0,-0.3L0.27,0.17L-0.27,0.17Z", "M-0.92,0H-0.3M0.3,0H0.92M0,0.3L0.27,-0.17L-0.27,-0.17Z", "M-1,0H-0.21M0.21,0H1M-0.21,-0.21H0.21V0.21H-0.21Z", "M-0.92,0H-0.3M0.3,0H0.92M0,-0.3L0.3,0L0,0.3L-0.3,0Z"]},
     "legend": {"title": null, "orient": "none", "legendX": 133.5, "legendY": 16, "direction": "horizontal", "symbolSize": 2304, "symbolStrokeWidth": 2.6, "symbolOpacity": 1, "labelFont": "Liberation Serif", "labelFontSize": 20, "labelColor": "#000", "labelOffset": 17, "labelLimit": 0, "columnPadding": 44, "padding": 0}}}}
]
}
